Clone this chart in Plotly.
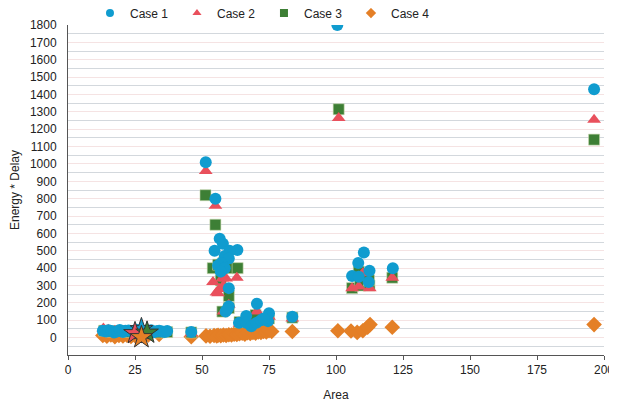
import plotly.graph_objects as go

# ---- data ----
case1_x = [13, 14.2, 15.1, 16.3, 17.2, 18.4, 19.3, 20.5, 21.4, 22.6, 23.5, 24.7, 25.6, 26.8,
           27.7, 28.9, 29.8, 31.0, 31.9, 33.1, 34.0, 35.2, 36.1, 37.0, 46.0,
           51.4, 55.0, 56.6, 57.8, 54.7, 63.2, 60.3, 58.5, 60.0, 57.2, 56.0, 58.5, 57.0,
           60.0, 60.0, 58.8, 59.5,
           63.8, 66.5, 66.5, 68.4, 70.3, 70.5, 72.0, 74.6, 75.0, 73.0, 83.7,
           100.5, 106.0, 108.5, 108.3, 110.4, 112.5, 112.2, 121.2, 196.3]
case1_y = [40, 35, 42, 38, 30, 36, 44, 33, 39, 41, 37, 30, 45, 38,
           34, 40, 36, 42, 31, 37, 39, 35, 33, 38, 32,
           1010, 800, 570, 540, 500, 505, 500, 470, 455, 430, 415, 400, 380,
           285, 180, 150, 165,
           85, 125, 85, 65, 85, 195, 100, 95, 140, 110, 120,
           1800, 355, 350, 430, 490, 385, 320, 400, 1430]

case2_x = [13.2, 15.0, 17.5, 20.0, 22.5, 25.0, 30.0, 33.0, 36.0, 46.0,
           51.4, 55.0, 54.1, 55.4, 56.5, 57.5, 59.0, 58.0, 63.0, 56.0, 60.0, 58.0,
           64.0, 66.5, 70.5, 75.0, 72.0, 83.7,
           101.0, 106.0, 108.5, 110.0, 112.6, 121.0, 196.3]
case2_y = [52, 45, 40, 36, 38, 35, 34, 36, 30, 25,
           960, 760, 320, 260, 280, 340, 340, 300, 345, 255, 190, 150,
           80, 110, 150, 120, 90, 110,
           1265, 285, 295, 370, 285, 345, 1255]

case3_x = [13.5, 16.0, 19.0, 22.0, 25.0, 31.0, 34.0, 37.0, 46.0,
           51.3, 55.0, 54.0, 56.0, 58.0, 59.6, 63.3, 57.0, 60.0, 57.6, 60.0,
           64.0, 67.0, 70.0, 75.0, 83.7,
           101.0, 106.0, 108.5, 109.0, 112.5, 112.3, 121.0, 196.3]
case3_y = [40, 35, 38, 33, 36, 35, 30, 32, 30,
           820, 650, 400, 420, 430, 400, 400, 330, 240, 150, 170,
           90, 100, 130, 110, 115,
           1315, 285, 380, 300, 300, 330, 345, 1140]

case4_x = [13.0, 14.5, 16.0, 17.5, 19.0, 20.5, 22.0, 23.5, 25.0, 30.0, 34.0, 46.0,
           51.5, 53.0, 54.5, 55.5, 56.0, 57.0, 58.0, 59.0, 60.0, 61.0, 62.0, 63.0,
           64.0, 65.0, 66.0, 67.0, 68.0, 69.0, 70.0, 71.0, 72.0, 73.0, 74.0, 75.0, 76.0,
           83.7, 100.7, 105.6, 107.9, 110.0, 111.8, 112.7, 121.0, 196.3]
case4_y = [12, 8, 15, 5, 12, 9, 14, 7, 11, 15, 18, 5,
           10, 8, 12, 10, 14, 11, 15, 12, 17, 15, 20, 18,
           22, 25, 20, 28, 24, 30, 26, 33, 30, 36, 32, 40, 35,
           35, 40, 38, 30, 40, 60, 75, 60, 75]

# highlighted reference designs (stars)
star_x = [27.4, 25.0, 29.5, 27.4]
star_y = [48, 25, 28, 2]

case_names = ["Case 1", "Case 2", "Case 3", "Case 4"]
case_symbols = ["circle", "triangle-up", "square", "diamond"]
case_colors = ["#109ccf", "#e9505c", "#3d7f35", "#e47f26"]

x_ticks = [0, 25, 50, 75, 100, 125, 150, 175, 200]
y_ticks = list(range(0, 1900, 100))

FONT = "Liberation Sans, Arial, Helvetica, sans-serif"
C1, C2, C3, C4 = case_colors

fig = go.Figure()
# data traces (drawn orange first, blue on top)
fig.add_trace(go.Scatter(x=case4_x, y=case4_y, mode="markers", name="Case 4", showlegend=False,
                         marker=dict(symbol="diamond", size=12, color=C4)))
fig.add_trace(go.Scatter(x=case3_x, y=case3_y, mode="markers", name="Case 3", showlegend=False,
                         marker=dict(symbol="square", size=11, color=C3,
                                     line=dict(color="#c9d8b0", width=0.6))))
fig.add_trace(go.Scatter(x=case2_x, y=case2_y, mode="markers", name="Case 2", showlegend=False,
                         marker=dict(symbol="triangle-up", size=12, color=C2)))
fig.add_trace(go.Scatter(x=case1_x, y=case1_y, mode="markers", name="Case 1", showlegend=False,
                         marker=dict(symbol="circle", size=12, color=C1)))
# stars
for i in range(4):
    fig.add_trace(go.Scatter(x=[star_x[i]], y=[star_y[i]], mode="markers", showlegend=False,
                             marker=dict(symbol="star", size=17, color=case_colors[i],
                                         line=dict(color="#333333", width=1))))
# legend entries (small symbols like the reference legend)
for name, sym, col in zip(case_names, case_symbols, case_colors):
    fig.add_trace(go.Scatter(x=[None], y=[None], mode="markers", name=name,
                             marker=dict(symbol=sym, size=8, color=col)))

# the page body adds an 8px offset, so the figure is 8px smaller in each direction
fig.update_layout(
    width=609, height=395,
    margin=dict(l=60, r=13, t=17, b=48, autoexpand=False),
    paper_bgcolor="white", plot_bgcolor="white",
    font=dict(family=FONT, size=12, color="#222222"),
    legend=dict(orientation="h", x=0.041, xanchor="left", y=1.036, yanchor="middle",
                entrywidth=42, entrywidthmode="pixels", itemwidth=30,
                font=dict(size=12), bgcolor="rgba(0,0,0,0)", traceorder="normal"),
    showlegend=True,
)
fig.update_xaxes(
    range=[0, 200], tickvals=x_ticks, ticktext=[str(v) for v in x_ticks],
    showgrid=False, zeroline=False,
    showline=True, linecolor="#555555", linewidth=1,
    ticks="outside", ticklen=4, tickcolor="#555555",
    title=dict(text="Area", standoff=14, font=dict(size=12)),
)
fig.update_yaxes(
    range=[-100, 1800], tickvals=y_ticks, ticktext=[str(v) for v in y_ticks],
    showgrid=True, gridcolor="#f5e3e3", gridwidth=1, zeroline=False,
    minor=dict(tick0=50, dtick=100, showgrid=True, gridcolor="#d3d8dd", gridwidth=1),
    showline=True, linecolor="#555555", linewidth=1,
    ticks="outside", ticklen=8, tickcolor="rgba(0,0,0,0)",
    title=dict(text="Energy * Delay", standoff=8, font=dict(size=12)),
)

fig.write_html("out.html")
